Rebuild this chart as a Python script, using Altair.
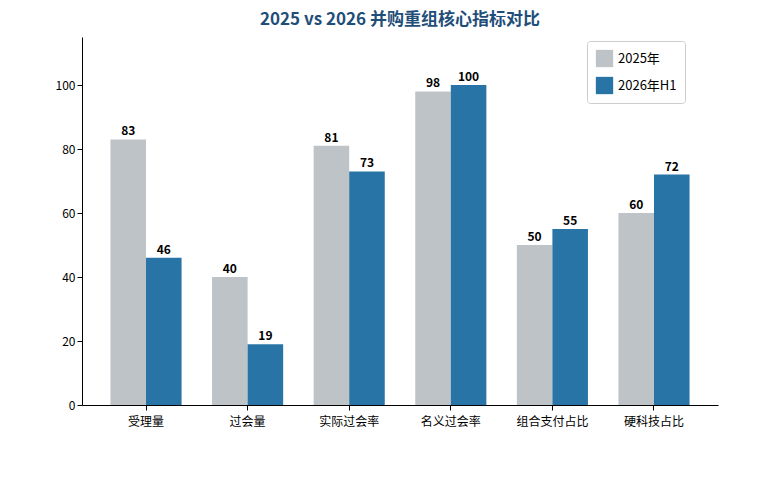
import pandas as pd
import altair as alt

categories = ['受理量', '过会量', '实际过会率', '名义过会率', '组合支付占比', '硬科技占比']
vals_2025 = [83, 40, 81, 98, 50, 60]
vals_2026 = [46, 19, 73, 100, 55, 72]
series = ['2025年', '2026年H1']

rows = []
for c, a, b in zip(categories, vals_2025, vals_2026):
    rows.append({'cat': c, 'series': series[0], 'v': a})
    rows.append({'cat': c, 'series': series[1], 'v': b})
df = pd.DataFrame(rows)

font = 'Noto Sans CJK SC'
x = alt.X('cat:N', sort=categories, title=None,
          scale=alt.Scale(paddingInner=0.3, paddingOuter=0.28),
          axis=alt.Axis(labelAngle=0, labelFontSize=12, labelColor='#000', labelPadding=6,
                        domainColor='#000', tickColor='#000', labelFont=font))
xo = alt.XOffset('series:N', sort=series)

bars = alt.Chart(df).mark_bar().encode(
    x=x, xOffset=xo,
    y=alt.Y('v:Q', title=None, scale=alt.Scale(domain=[0, 115], nice=False),
            axis=alt.Axis(values=[0, 20, 40, 60, 80, 100], grid=False, labelFontSize=12,
                          labelColor='#000', domainColor='#000', tickColor='#000', labelFont=font)),
    color=alt.Color('series:N', sort=series,
                    scale=alt.Scale(domain=series, range=['#bdc3c7', '#2874a6']),
                    legend=alt.Legend(title=None, orient='none', legendX=505, legendY=4,
                                      symbolType='square', symbolSize=300, labelFontSize=13,
                                      labelFont=font, fillColor='white', strokeColor='#ccc',
                                      padding=8, rowPadding=8, cornerRadius=3))
)
text = alt.Chart(df).mark_text(dy=-8, fontWeight='bold', fontSize=12, font=font, color='#000').encode(
    x=x, xOffset=xo, y='v:Q', text='v:Q')

chart = (bars + text).properties(
    width=636, height=368,
    title=alt.Title('2025 vs 2026 并购重组核心指标对比', fontSize=17, font=font,
                    color='#1f4e79', fontWeight='bold', offset=8),
    padding={'left': 74, 'top': 29, 'right': 40, 'bottom': 40},
    autosize=alt.AutoSizeParams(type='none')
).configure_view(stroke=None)

chart.save("out.html", embed_options={"renderer": "svg", "actions": False})
